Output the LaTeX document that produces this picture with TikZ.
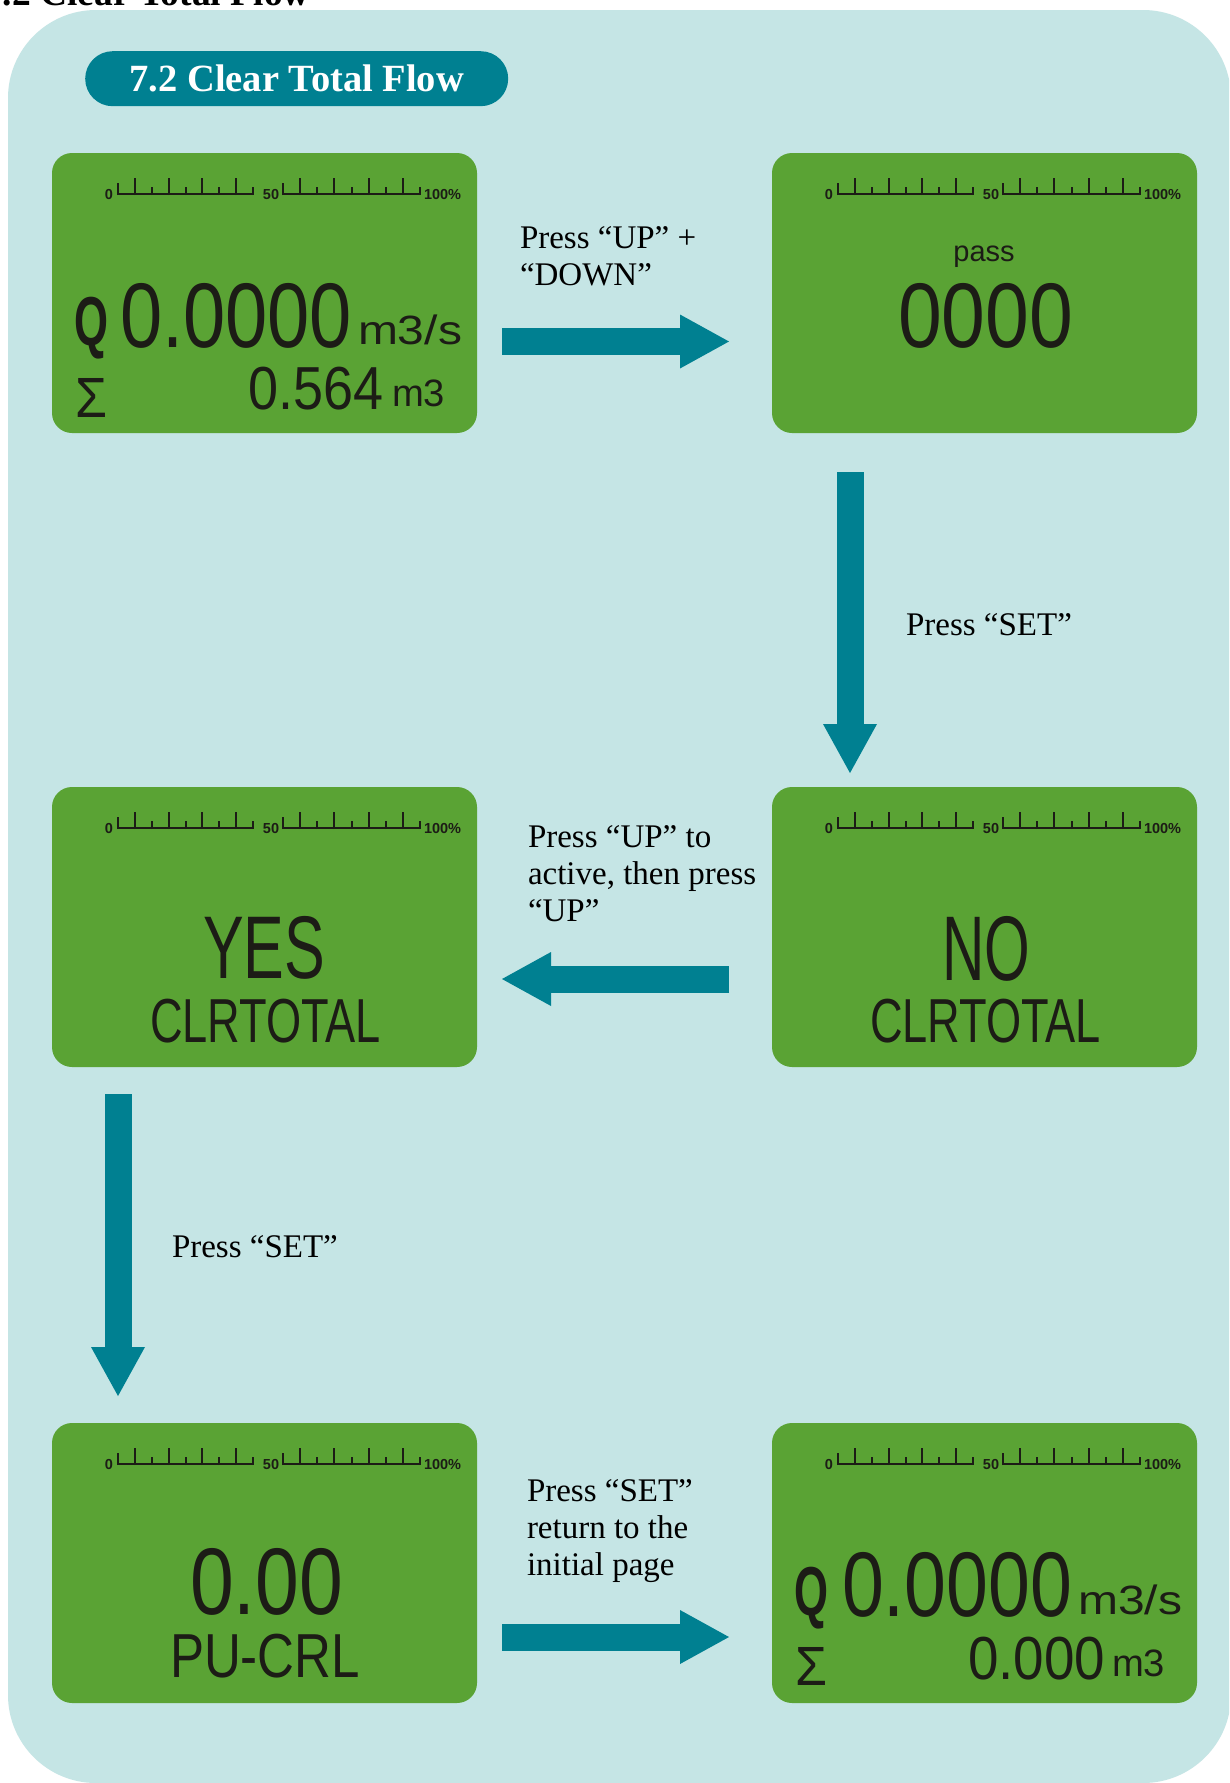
\documentclass[tikz,border=0pt]{standalone}
\usepackage{fontspec}
\usepackage{graphicx}
\setmainfont{Liberation Serif}
\newfontfamily\lcdfont{Liberation Sans}
\usetikzlibrary{arrows.meta,calc}
\definecolor{panelbg}{RGB}{197,229,229}
\definecolor{flowteal}{RGB}{0,128,145}
\definecolor{lcdgreen}{RGB}{90,163,52}
\definecolor{lcdink}{RGB}{28,28,22}
\newcommand{\lcdtext}[3]{\resizebox*{#1pt}{#2pt}{\lcdfont #3}}
\newcommand{\pctscale}[1]{%
  \begin{scope}[shift={(#1.north west)}]
    \draw[line width=2.2pt, lcdink] (66,41) -- (201,41);
    \draw[line width=2.2pt, lcdink] (231,41) -- (368,41);
    \foreach \tx/\ty in {66/30,82.875/25,99.75/34,116.625/25,133.5/34,150.375/25,167.25/34,184.125/25,201/34,
                        231/30,248.125/25,265.25/34,282.375/25,299.5/34,316.625/25,333.75/34,350.875/25,368/34}
      \draw[line width=2pt, lcdink] (\tx,42) -- (\tx,\ty);
    \node[scalenum, anchor=base] (#1s0) at (57,46) {0};
    \node[scalenum, anchor=base] (#1s50) at (219,46) {50};
    \node[scalenum, anchor=base west] (#1s100) at (372,46) {100\%};
  \end{scope}}
\begin{document}
\begin{tikzpicture}[x=1pt,y=-1pt,
  lcdbox/.style={fill=lcdgreen, rounded corners=20pt, minimum width=425pt, minimum height=280pt, anchor=north west, inner sep=0pt, outer sep=0pt},
  lcdt/.style={inner sep=0pt, outer sep=0pt, anchor=north west, text=lcdink},
  scalenum/.style={inner sep=0pt, outer sep=0pt, text=lcdink, font=\lcdfont\bfseries\fontsize{14.5}{15}\selectfont},
  lbl/.style={font=\fontsize{33}{37}\selectfont, inner sep=0pt, outer sep=0pt, align=left, text=black},
  flow/.style={draw=flowteal, line width=27pt, -{Triangle[length=49pt,width=54pt,line width=0pt]}},
]
\fill[white] (0,0) rectangle (1229,1783);
\useasboundingbox (0,0) rectangle (1229,1783);
\clip (0,0) rectangle (1229,1783);

% cut-off heading
\node[anchor=base west, inner sep=0pt, font=\bfseries\fontsize{37.5}{40}\selectfont] (hdr) at (-16,5.5) {7.2 Clear Total Flow};

% panel
\fill[panelbg, rounded corners=88pt] (8,10) rectangle (1231,1783);

% title badge
\node[fill=flowteal, rounded corners=27.5pt, minimum width=423pt, minimum height=55pt, inner sep=0pt, anchor=north west,
      text=white, font=\bfseries\fontsize{38.5}{40}\selectfont] (badge) at (85,51) {7.2 Clear Total Flow};

% LCD boxes
\node[lcdbox] (lcd1) at (52,153) {};
\node[lcdbox] (lcd2) at (772,153) {};
\node[lcdbox] (lcd3) at (52,787) {};
\node[lcdbox] (lcd4) at (772,787) {};
\node[lcdbox] (lcd5) at (52,1423) {};
\node[lcdbox] (lcd6) at (772,1423) {};
\pctscale{lcd1}
\pctscale{lcd2}
\pctscale{lcd3}
\pctscale{lcd4}
\pctscale{lcd5}
\pctscale{lcd6}

% box 1
\node[lcdt] (q1) at (74,297) {\resizebox*{34pt}{62pt}{\lcdfont\bfseries Q}};
\node[lcdt] (v1) at (120,283) {\lcdtext{232}{65}{0.0000}};
\node[lcdt] (u1) at (358,315) {\lcdtext{104}{30}{m3/s}};
\node[lcdt] (s1) at (75,378) {\lcdtext{32}{39}{Σ}};
\node[lcdt] (t1) at (248,367) {\lcdtext{135}{43}{0.564}};
\node[lcdt] (m1) at (392,380) {\lcdtext{53}{27}{m3}};

% box 2
\node[inner sep=0pt, text=lcdink, anchor=base, font=\lcdfont\fontsize{29}{30}\selectfont] (pass) at (984,261) {pass};
\node[lcdt] (v2) at (898,283) {\lcdtext{175}{65}{0000}};

% box 3
\node[lcdt] (yes) at (203,916) {\lcdtext{122}{63}{YES}};
\node[lcdt] (clr3) at (150,999) {\lcdtext{231}{44}{CLRTOTAL}};

% box 4
\node[lcdt] (no) at (942,916) {\lcdtext{88}{65}{NO}};
\node[lcdt] (clr4) at (870,999) {\lcdtext{231}{44}{CLRTOTAL}};

% box 5
\node[lcdt] (v5) at (190,1548) {\lcdtext{153}{67}{0.00}};
\node[lcdt] (pu) at (170,1634) {\lcdtext{190}{44}{PU-CRL}};

% box 6
\node[lcdt] (q6) at (794,1567) {\resizebox*{34pt}{62pt}{\lcdfont\bfseries Q}};
\node[lcdt] (v6) at (842,1552) {\lcdtext{230}{65}{0.0000}};
\node[lcdt] (u6) at (1078,1585) {\lcdtext{104}{30}{m3/s}};
\node[lcdt] (s6) at (795,1647) {\lcdtext{32}{38}{Σ}};
\node[lcdt] (t6) at (968,1637) {\lcdtext{137}{43}{0.000}};
\node[lcdt] (m6) at (1112,1650) {\lcdtext{53}{27}{m3}};

% arrows
\coordinate (a1s) at (502,341.5); \coordinate (a1e) at (729,341.5);
\coordinate (a2s) at (850,472);   \coordinate (a2e) at (850,773);
\coordinate (a3s) at (729,979);   \coordinate (a3e) at (502,979);
\coordinate (a4s) at (118,1094);  \coordinate (a4e) at (118,1396);
\coordinate (a5s) at (502,1637);  \coordinate (a5e) at (729,1637);
\draw[flow] (a1s) -- (a1e);
\draw[flow] (a2s) -- (a2e);
\draw[flow] (a3s) -- (a3e);
\draw[flow] (a4s) -- (a4e);
\draw[flow] (a5s) -- (a5e);

% labels
\node[lbl, anchor=north west] (l1) at (520,227) {Press “UP” +\\“DOWN”};
\node[lbl, anchor=base west] (l2) at (906,635) {Press “SET”};
\node[lbl, anchor=north west] (l3) at (528,826) {Press “UP” to\\active, then press\\“UP”};
\node[lbl, anchor=base west] (l4) at (172,1257) {Press “SET”};
\node[lbl, anchor=north west] (l5) at (527,1480) {Press “SET”\\return to the\\initial page};
\end{tikzpicture}
\end{document}
